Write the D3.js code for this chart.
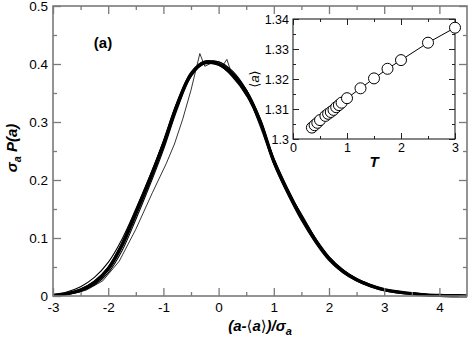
<!DOCTYPE html>
<html>
<head>
<meta charset="utf-8">
<script src="https://cdn.jsdelivr.net/npm/d3@7"></script>
<style>
body { margin: 0; background: #fff; }
svg { display: block; font-family: 'Liberation Sans', Arial, sans-serif; }
.br { font-family: 'DejaVu Sans', sans-serif; font-style: normal; font-weight: normal; }
</style>
</head>
<body>
<script>
// scaled distributions, sampled every 0.25 from -3 to 4.5
const xGrid = [-3, -2.75, -2.5, -2.25, -2, -1.75, -1.5, -1.25, -1, -0.75, -0.5, -0.25, 0, 0.25, 0.5, 0.75,
  1, 1.25, 1.5, 1.75, 2, 2.25, 2.5, 2.75, 3, 3.25, 3.5, 3.75, 4, 4.25, 4.5];

const bundle = [0.001, 0.004, 0.010, 0.023, 0.047, 0.088, 0.143, 0.200, 0.262, 0.330, 0.382, 0.403, 0.400, 0.382, 0.352, 0.302,
  0.232, 0.180, 0.136, 0.097, 0.065, 0.043, 0.028, 0.018, 0.011, 0.007, 0.004, 0.002, 0.001, 0.0005, 0.0002];
const runB = [0.002, 0.007, 0.016, 0.032, 0.058, 0.098, 0.150, 0.206, 0.266, 0.334, 0.382, 0.400, 0.398, 0.380, 0.348, 0.300,
  0.238, 0.186, 0.140, 0.100, 0.068, 0.046, 0.030, 0.019, 0.012, 0.008, 0.005, 0.003, 0.002, 0.001, 0.0005];
const runC = [0.000, 0.003, 0.008, 0.019, 0.040, 0.078, 0.132, 0.190, 0.252, 0.322, 0.378, 0.402, 0.404, 0.388, 0.356, 0.306,
  0.236, 0.184, 0.138, 0.098, 0.066, 0.044, 0.029, 0.018, 0.011, 0.007, 0.004, 0.002, 0.001, 0.000, 0.000];
const runD = [0.001, 0.005, 0.012, 0.026, 0.050, 0.092, 0.146, 0.204, 0.266, 0.334, 0.386, 0.405, 0.399, 0.378, 0.346, 0.296,
  0.228, 0.176, 0.130, 0.092, 0.061, 0.040, 0.026, 0.016, 0.009, 0.005, 0.003, 0.002, 0.001, 0.000, 0.000];
const runE = [0.0005, 0.003, 0.009, 0.021, 0.044, 0.084, 0.138, 0.196, 0.256, 0.326, 0.380, 0.402, 0.404, 0.386, 0.356, 0.306,
  0.236, 0.184, 0.138, 0.098, 0.066, 0.045, 0.030, 0.020, 0.012, 0.008, 0.005, 0.003, 0.0015, 0.0008, 0.0003];

// the one noisy run, on its own abscissae
const noisyX = [-3, -2.7, -2.4, -2.1, -1.8, -1.5, -1.2, -0.95, -0.8, -0.65, -0.5, -0.34, -0.25, -0.12, 0.0, 0.08, 0.15, 0.22,
  0.35, 0.5, 0.57, 0.65, 0.8, 1.0, 1.15, 1.25, 1.35, 1.5, 1.62, 1.75, 1.95, 2.15, 2.35, 2.5, 2.7, 3.0, 3.3, 3.55, 3.75, 3.95, 4.2, 4.5];
const noisyY = [0, 0.003, 0.010, 0.026, 0.060, 0.115, 0.178, 0.228, 0.262, 0.305, 0.355, 0.418, 0.396, 0.402, 0.400, 0.398, 0.408,
  0.388, 0.370, 0.345, 0.342, 0.318, 0.280, 0.228, 0.196, 0.180, 0.164, 0.142, 0.122, 0.100, 0.068, 0.048, 0.038, 0.028, 0.018,
  0.010, 0.006, 0.006, 0.003, 0.001, 0.0005, 0];

// inset: <a> vs T
const insetT = [0.35, 0.4, 0.45, 0.5, 0.6, 0.65, 0.7, 0.75, 0.8, 0.85, 0.9, 1.0, 1.25, 1.5, 1.75, 2.0, 2.5, 3.0];
const insetA = [1.3038, 1.3046, 1.3054, 1.3063, 1.3077, 1.3084, 1.3090, 1.3097, 1.3106, 1.3113, 1.3121, 1.3136,
  1.3169, 1.3202, 1.3234, 1.3263, 1.3321, 1.3371];

const xTicks = [-3, -2, -1, 0, 1, 2, 3, 4];
const xMinor = [-2.5, -1.5, -0.5, 0.5, 1.5, 2.5, 3.5];
const yTicks = [0, 0.1, 0.2, 0.3, 0.4, 0.5];
const yMinor = [0.05, 0.15, 0.25, 0.35, 0.45];
const inXTicks = [0, 1, 2, 3];
const inXMinor = [0.5, 1.5, 2.5];
const inYTicks = [1.3, 1.31, 1.32, 1.33, 1.34];
const inYMinor = [1.305, 1.315, 1.325, 1.335];

const W = 469, H = 341;
const margin = { t: 6, b: 45, l: 53, r: 2 };
const inBox = { l: 293, r: 455, t: 19, b: 139 };
const grey = '#7a7a7a';

const svg = d3.select('body').
append('svg').
attr('width', W).
attr('height', H);

const x = d3.scaleLinear().domain([-3, 4.5]).range([margin.l, W - margin.r]);
const y = d3.scaleLinear().domain([0, 0.5]).range([H - margin.b, margin.t]);

// ticks pointing inward on all four sides
function ticks(g, axis, vals, size, fmt, pad) {
  g.call(axis.tickValues(vals).tickSize(-size).tickSizeOuter(0).tickPadding(pad || 4).
  tickFormat(fmt || ''));
  g.select('.domain').remove();
  return g;
}

function frameAxes(sx, sy, box, o) {
  const gb = svg.append('g').attr('transform', `translate(0,${box.b})`);
  ticks(gb, d3.axisBottom(sx), o.xt, o.maj, o.xf, o.xpad);
  ticks(svg.append('g').attr('transform', `translate(0,${box.b})`), d3.axisBottom(sx), o.xm, o.min);
  ticks(svg.append('g').attr('transform', `translate(0,${box.t})`), d3.axisTop(sx), o.xt, o.maj);
  ticks(svg.append('g').attr('transform', `translate(0,${box.t})`), d3.axisTop(sx), o.xm, o.min);
  const gl = svg.append('g').attr('transform', `translate(${box.l},0)`);
  ticks(gl, d3.axisLeft(sy), o.yt, o.maj, o.yf, o.ypad);
  ticks(svg.append('g').attr('transform', `translate(${box.l},0)`), d3.axisLeft(sy), o.ym, o.min);
  ticks(svg.append('g').attr('transform', `translate(${box.r},0)`), d3.axisRight(sy), o.yt, o.maj);
  ticks(svg.append('g').attr('transform', `translate(${box.r},0)`), d3.axisRight(sy), o.ym, o.min);
  svg.append('rect').
  attr('x', box.l).attr('y', box.t).
  attr('width', box.r - box.l).attr('height', box.b - box.t).
  attr('fill', 'none').
  attr('stroke', o.color).
  attr('stroke-width', o.sw);
}

// main curves
const line = d3.line().
x(d => x(d[0])).
y(d => y(d[1])).
curve(d3.curveCatmullRom);

const runs = [runB, runC, runD, runE];

svg.append('path').
datum(xGrid.map((v, i) => [v, bundle[i]])).
attr('d', line).
attr('fill', 'none').
attr('stroke', '#000').
attr('stroke-width', 3.4);

runs.forEach(r => {
  svg.append('path').
  datum(xGrid.map((v, i) => [v, r[i]])).
  attr('d', line).
  attr('fill', 'none').
  attr('stroke', '#000').
  attr('stroke-width', 1.1);
});

svg.append('path').
datum(noisyX.map((v, i) => [v, noisyY[i]])).
attr('d', d3.line().x(d => x(d[0])).y(d => y(d[1]))).
attr('fill', 'none').
attr('stroke', '#000').
attr('stroke-width', 0.8);

const num = d => String(d).replace('\u2212', '-');

frameAxes(x, y, { l: margin.l, r: W - margin.r, t: margin.t, b: H - margin.b }, {
  xt: xTicks, xm: xMinor, yt: yTicks, ym: yMinor, maj: 8, min: 4,
  xf: num, yf: d => d === 0 ? '0' : d3.format('.1f')(d),
  xpad: 6, ypad: 5, color: grey, sw: 1.6 });

svg.selectAll('.tick line').attr('stroke', grey).attr('stroke-width', 1.3);
svg.selectAll('.tick text').style('font-size', '13.5px').attr('fill', '#000');

// inset
const ix = d3.scaleLinear().domain([0, 3]).range([inBox.l, inBox.r]);
const iy = d3.scaleLinear().domain([1.3, 1.34]).range([inBox.b, inBox.t]);

svg.append('rect').
attr('x', inBox.l).attr('y', inBox.t).
attr('width', inBox.r - inBox.l).attr('height', inBox.b - inBox.t).
attr('fill', '#fff');

const before = svg.selectAll('.tick').size();
frameAxes(ix, iy, inBox, {
  xt: inXTicks, xm: inXMinor, yt: inYTicks, ym: inYMinor, maj: 6, min: 3,
  xf: num, yf: d => String(+d.toFixed(3)),
  xpad: 4, ypad: 4, color: '#222', sw: 1.1 });
svg.selectAll('.tick').filter((d, i) => i >= before).
each(function () {
  d3.select(this).select('line').attr('stroke', '#222').attr('stroke-width', 1);
  d3.select(this).select('text').style('font-size', '12.5px').attr('fill', '#000');
});

const pts = insetT.map((t, i) => [t, insetA[i]]);
svg.append('path').
datum(pts).
attr('d', d3.line().x(d => ix(d[0])).y(d => iy(d[1]))).
attr('fill', 'none').
attr('stroke', '#000').
attr('stroke-width', 1);

svg.selectAll('circle').
data(pts).
enter().
append('circle').
attr('cx', d => ix(d[0])).
attr('cy', d => iy(d[1])).
attr('r', 5.5).
attr('fill', '#fff').
attr('stroke', '#000').
attr('stroke-width', 1);

// labels
svg.append('text').
attr('x', 103).attr('y', 48).
attr('text-anchor', 'middle').
style('font-size', '15px').style('font-weight', 'bold').
text('(a)');

const xl = svg.append('text').
attr('x', 260).attr('y', 331).
attr('text-anchor', 'middle').
style('font-size', '15px').style('font-weight', 'bold').style('font-style', 'italic');
xl.append('tspan').text('(a-');
xl.append('tspan').attr('class', 'br').text('\u27E8');
xl.append('tspan').text('a');
xl.append('tspan').attr('class', 'br').text('\u27E9');
xl.append('tspan').text(')/\u03C3');
xl.append('tspan').attr('dy', 4).style('font-size', '11px').text('a');

const yl = svg.append('text').
attr('transform', 'translate(17,148) rotate(-90)').
attr('text-anchor', 'middle').
style('font-size', '15px').style('font-weight', 'bold').style('font-style', 'italic');
yl.append('tspan').text('\u03C3');
yl.append('tspan').attr('dy', 4).style('font-size', '11px').text('a');
yl.append('tspan').attr('dy', -4).text(' P(a)');

const al = svg.append('text').
attr('transform', 'translate(259,79) rotate(-90)').
attr('text-anchor', 'middle').
style('font-size', '13px').style('font-style', 'italic');
al.append('tspan').attr('class', 'br').text('\u27E8');
al.append('tspan').text('a');
al.append('tspan').attr('class', 'br').text('\u27E9');

svg.append('text').
attr('x', 374).attr('y', 167).
attr('text-anchor', 'middle').
style('font-size', '15px').style('font-weight', 'bold').style('font-style', 'italic').
text('T');
</script>
</body>
</html>
